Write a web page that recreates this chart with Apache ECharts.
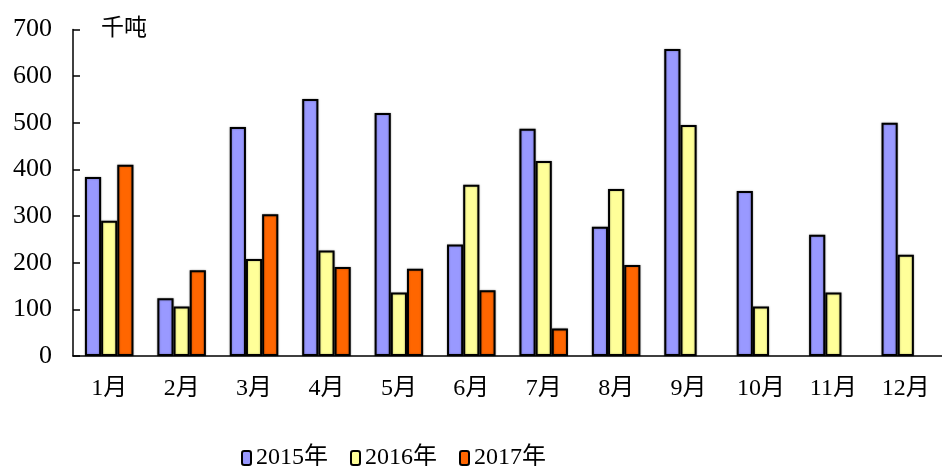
<!DOCTYPE html>
<html>
<head>
<meta charset="utf-8">
<script src="https://cdn.jsdelivr.net/npm/echarts@6/dist/echarts.min.js"></script>
<style>
html, body { margin: 0; padding: 0; background: #fff; }
#main { width: 942px; height: 466px; }
</style>
</head>
<body>
<div id="main"></div>
<script>
// 月份
var months = ['1月', '2月', '3月', '4月', '5月', '6月', '7月', '8月', '9月', '10月', '11月', '12月'];
// 各年数据（千吨）
var y2015 = [384, 124, 491, 551, 521, 239, 487, 277, 658, 354, 260, 500];
var y2016 = [290, 106, 208, 226, 136, 367, 418, 358, 495, 106, 136, 217];
var y2017 = [410, 184, 304, 191, 187, 141, 59, 195, null, null, null, null];
var yTicks = [0, 100, 200, 300, 400, 500, 600, 700];

var FONT = '"Liberation Serif", "Noto Sans CJK SC", serif';

var myChart = echarts.init(document.getElementById('main'));

var barStyle = function (c) {
    return {
        color: c,
        borderColor: '#000',
        borderWidth: 2,
        shadowColor: 'rgba(0,0,0,0.35)',
        shadowBlur: 2
    };
};

var option = {
    animation: false,
    backgroundColor: '#fff',
    title: {
        text: '千吨',
        left: 96,
        top: 12,
        textStyle: {fontFamily: FONT, fontSize: 23, fontWeight: 'normal', color: '#000'}
    },
    legend: {
        left: 236,
        top: 441,
        itemWidth: 9,
        itemHeight: 14,
        itemGap: 22,
        textStyle: {fontFamily: FONT, fontSize: 24, color: '#000'},
        data: ['2015年', '2016年', '2017年']
    },
    grid: {
        left: 73,
        top: 29.5,
        width: 878.4,
        height: 326.5
    },
    xAxis: {
        type: 'category',
        data: months,
        axisLine: {lineStyle: {color: '#000', width: 1.5}},
        axisTick: {inside: true, length: 7, lineStyle: {color: '#000', width: 1.5}},
        axisLabel: {fontFamily: FONT, fontSize: 24, color: '#000', margin: 21}
    },
    yAxis: {
        type: 'value',
        min: yTicks[0],
        max: yTicks[yTicks.length - 1],
        interval: 100,
        axisLine: {show: true, lineStyle: {color: '#000', width: 1.5}},
        axisTick: {show: true, inside: true, length: 7, lineStyle: {color: '#000', width: 1.5}},
        splitLine: {show: false},
        axisLabel: {fontFamily: FONT, fontSize: 26, color: '#000', margin: 21}
    },
    series: [
        {
            name: '2015年',
            type: 'bar',
            barGap: '0%',
            barCategoryGap: '33%',
            itemStyle: barStyle('#9999FF'),
            data: y2015
        },
        {
            name: '2016年',
            type: 'bar',
            barGap: '0%',
            barCategoryGap: '33%',
            itemStyle: barStyle('#FFFF99'),
            data: y2016
        },
        {
            name: '2017年',
            type: 'bar',
            barGap: '0%',
            barCategoryGap: '33%',
            itemStyle: barStyle('#FF6600'),
            data: y2017
        }
    ]
};

myChart.setOption(option);
</script>
</body>
</html>
